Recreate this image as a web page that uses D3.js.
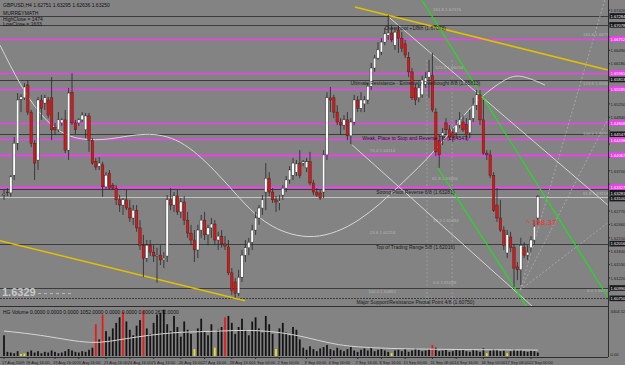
<!DOCTYPE html>
<html>
<head>
<meta charset="utf-8">
<script src="https://cdn.jsdelivr.net/npm/d3@7"></script>
<style>
  body { margin: 0; background: #838383; }
  svg { display: block; }
  text { font-family: "Liberation Sans", Arial, sans-serif; }
</style>
</head>
<body>
<svg id="chart" width="625" height="365"></svg>
<script>
// GBPUSD H4 bars
const opens = [1.6314,1.6321,1.6319,1.6360,1.6434,1.6536,1.6539,1.6569,1.6506,1.6434,1.6395,1.6534,1.6527,1.6534,1.6539,1.6471,1.6465,1.6481,1.6488,1.6418,
  1.6552,1.6481,1.6481,1.6488,1.6465,1.6497,1.6441,1.6391,1.6381,1.6384,1.6333,1.6365,1.6337,1.6330,1.6303,1.6291,1.6303,1.6284,1.6261,1.6279,
  1.6238,1.6198,1.6168,1.6198,1.6182,1.6173,1.6175,1.6164,1.6173,1.6303,1.6291,1.6312,1.6275,1.6298,1.6256,1.6226,1.6210,1.6187,1.6233,1.6256,
  1.6222,1.6238,1.6247,1.6210,1.6219,1.6201,1.6194,1.6134,1.6113,1.6087,1.6124,1.6175,1.6192,1.6205,1.6233,1.6261,1.6284,1.6321,1.6353,1.6321,
  1.6303,1.6296,1.6314,1.6330,1.6349,1.6360,1.6367,1.6388,1.6388,1.6377,1.6391,1.6342,1.6321,1.6319,1.6321,1.6407,1.6539,1.6539,1.6506,1.6483,
  1.6476,1.6488,1.6451,1.6483,1.6534,1.6515,1.6525,1.6534,1.6566,1.6608,1.6631,1.6645,1.6668,1.6684,1.6689,1.6661,1.6696,1.6677,1.6664,1.6633,
  1.6599,1.6562,1.6539,1.6546,1.6569,1.6587,1.6590,1.6506,1.6441,1.6451,1.6481,1.6465,1.6458,1.6458,1.6476,1.6483,1.6478,1.6458,1.6492,1.6522,
  1.6546,1.6488,1.6411,1.6407,1.6360,1.6291,1.6261,1.6233,1.6180,1.6217,1.6192,1.6148,1.6141,1.6192,1.6175,1.6192,1.6210,1.6261];
const highs = [1.6326,1.6330,1.6360,1.6448,1.6550,1.6548,1.6573,1.6580,1.6511,1.6441,1.6541,1.6546,1.6546,1.6541,1.6587,1.6481,1.6506,1.6492,1.6511,1.6562,
  1.6596,1.6488,1.6492,1.6506,1.6504,1.6504,1.6446,1.6400,1.6402,1.6391,1.6367,1.6372,1.6342,1.6337,1.6314,1.6307,1.6326,1.6303,1.6291,1.6291,
  1.6256,1.6222,1.6210,1.6210,1.6198,1.6192,1.6198,1.6182,1.6314,1.6330,1.6321,1.6326,1.6307,1.6312,1.6275,1.6245,1.6233,1.6245,1.6268,1.6275,
  1.6245,1.6261,1.6256,1.6229,1.6233,1.6219,1.6210,1.6145,1.6122,1.6141,1.6187,1.6210,1.6215,1.6245,1.6275,1.6291,1.6314,1.6388,1.6367,1.6330,
  1.6312,1.6314,1.6337,1.6358,1.6381,1.6400,1.6395,1.6418,1.6395,1.6400,1.6414,1.6349,1.6330,1.6326,1.6418,1.6552,1.6564,1.6546,1.6522,1.6492,
  1.6499,1.6506,1.6492,1.6546,1.6543,1.6552,1.6543,1.6573,1.6620,1.6638,1.6668,1.6677,1.6701,1.6731,1.6708,1.6701,1.6708,1.6691,1.6673,1.6645,
  1.6608,1.6571,1.6571,1.6590,1.6599,1.6627,1.6643,1.6515,1.6453,1.6469,1.6492,1.6476,1.6469,1.6488,1.6506,1.6499,1.6492,1.6511,1.6539,1.6557,
  1.6557,1.6534,1.6418,1.6418,1.6367,1.6330,1.6303,1.6242,1.6233,1.6229,1.6201,1.6159,1.6215,1.6205,1.6198,1.6219,1.6256,1.6314];
const lows = [1.6303,1.6312,1.6310,1.6349,1.6418,1.6506,1.6534,1.6499,1.6425,1.6349,1.6372,1.6488,1.6511,1.6492,1.6441,1.6453,1.6460,1.6474,1.6411,1.6395,
  1.6476,1.6455,1.6474,1.6483,1.6446,1.6414,1.6384,1.6372,1.6372,1.6310,1.6326,1.6326,1.6326,1.6291,1.6275,1.6268,1.6279,1.6252,1.6245,1.6229,
  1.6187,1.6124,1.6159,1.6173,1.6159,1.6111,1.6152,1.6145,1.6159,1.6279,1.6275,1.6268,1.6261,1.6245,1.6215,1.6198,1.6159,1.6168,1.6215,1.6210,
  1.6198,1.6215,1.6198,1.6187,1.6192,1.6187,1.6129,1.6083,1.6076,1.6080,1.6113,1.6159,1.6175,1.6187,1.6222,1.6245,1.6268,1.6279,1.6312,1.6296,
  1.6275,1.6279,1.6303,1.6321,1.6340,1.6349,1.6358,1.6353,1.6381,1.6367,1.6337,1.6314,1.6310,1.6303,1.6307,1.6395,1.6506,1.6492,1.6476,1.6453,
  1.6465,1.6441,1.6432,1.6476,1.6506,1.6506,1.6506,1.6525,1.6557,1.6599,1.6627,1.6638,1.6661,1.6673,1.6668,1.6650,1.6643,1.6645,1.6631,1.6587,
  1.6534,1.6522,1.6529,1.6539,1.6562,1.6539,1.6506,1.6404,1.6377,1.6430,1.6453,1.6441,1.6437,1.6446,1.6469,1.6460,1.6441,1.6446,1.6483,1.6511,
  1.6476,1.6407,1.6395,1.6353,1.6275,1.6252,1.6229,1.6187,1.6168,1.6182,1.6101,1.6117,1.6106,1.6168,1.6164,1.6182,1.6201,1.6245];
const closes = [1.6316,1.6319,1.6356,1.6434,1.6534,1.6541,1.6564,1.6506,1.6434,1.6388,1.6534,1.6515,1.6539,1.6499,1.6465,1.6465,1.6488,1.6488,1.6418,1.6550,
  1.6481,1.6465,1.6488,1.6499,1.6497,1.6441,1.6388,1.6379,1.6388,1.6333,1.6360,1.6330,1.6330,1.6303,1.6291,1.6303,1.6284,1.6261,1.6279,1.6238,
  1.6198,1.6168,1.6198,1.6182,1.6173,1.6175,1.6164,1.6168,1.6303,1.6291,1.6312,1.6275,1.6298,1.6256,1.6226,1.6210,1.6187,1.6233,1.6256,1.6222,
  1.6238,1.6247,1.6210,1.6219,1.6201,1.6196,1.6134,1.6094,1.6087,1.6124,1.6175,1.6192,1.6205,1.6233,1.6261,1.6284,1.6303,1.6353,1.6321,1.6303,
  1.6298,1.6300,1.6330,1.6349,1.6372,1.6388,1.6386,1.6360,1.6391,1.6391,1.6342,1.6321,1.6314,1.6307,1.6407,1.6539,1.6534,1.6506,1.6483,1.6476,
  1.6488,1.6451,1.6483,1.6534,1.6515,1.6534,1.6534,1.6566,1.6608,1.6631,1.6650,1.6668,1.6687,1.6689,1.6673,1.6691,1.6677,1.6654,1.6638,1.6599,
  1.6539,1.6534,1.6562,1.6580,1.6585,1.6599,1.6511,1.6414,1.6407,1.6458,1.6465,1.6448,1.6448,1.6476,1.6488,1.6465,1.6453,1.6488,1.6522,1.6546,
  1.6488,1.6411,1.6407,1.6360,1.6279,1.6261,1.6233,1.6198,1.6222,1.6192,1.6145,1.6141,1.6198,1.6175,1.6182,1.6210,1.6242,1.6310];

// HG Volume histogram + its average
const volumes = [1500,300,250,200,350,150,180,300,400,250,350,200,300,250,400,300,200,250,350,500,400,300,250,350,300,450,600,
  2300,1200,3000,1800,1400,2000,2400,2800,3200,2500,1900,1500,2200,2600,3300,2000,1600,2400,3000,3100,3350,2300,1800,2900,2100,1400,2500,1900,1600,
  500,2000,2700,1800,1500,2300,600,1900,2100,2800,2900,2400,1600,2100,2700,1900,1500,2500,2800,2000,1700,2900,2300,1600,500,2000,2400,1700,1500,2100,1900,1200,
  600,450,700,500,350,550,650,800,500,400,600,450,350,500,650,400,300,450,550,400,600,350,450,500,400,300,200,400,450,350,500,300,400,550,450,350,400,500,
  800,600,350,400,450,300,350,450,400,500,350,300,450,400,300,550,200,400,500,450,350,400,200,350,500,400,450,350,300,400,350,250];
const volRed = [27, 29, 35, 41, 65, 126];
const volYellow = [5, 6, 56, 62, 80, 114, 142, 148];
const volAvgIdx = [0, 12, 26, 35, 50, 60, 75, 88, 97, 110, 157];
const volAvgVal = [1810, 1500, 800, 1250, 1750, 1750, 1950, 1450, 800, 500, 430];

// horizontal levels
const magentaLevels = [1.66752, 1.65965, 1.65595, 1.64808, 1.64438, 1.64067, 1.63327];
const magentaThick = [1.64067, 1.63327];
const darkLevels = [1.67284, 1.67078, 1.65813, 1.64547, 1.63281, 1.62016, 1.60990, 1.60750];
const murreyPrices = [1.67078, 1.65813, 1.64547, 1.63281, 1.62016, 1.60750];
const murreyNames = ["Overshoot +1/8th", "Ultimate Resistance - Extremely Overbought 8/8",
  "Weak, Place to Stop and Reverse 7/8", "Strong Pivot Reverse 6/8",
  "Top of Trading Range 5/8", "Major Support/Resistance Pivotal Point 4/8"];
const priceTicks = [1.6742, 1.6711, 1.6680, 1.6649, 1.6618, 1.6587, 1.6556, 1.6525, 1.6494, 1.6463, 1.6432,
  1.6401, 1.6370, 1.6339, 1.6308, 1.6277, 1.6246, 1.6215, 1.6184, 1.6153, 1.6122, 1.6091];

// trend lines: [bar1, price1, bar2, price2]
const yellowLines = [[103.2, 1.67492, 177.6, 1.66034], [-1.2, 1.62085, 70.9, 1.60696]];
const greenLines = [[122.9, 1.67654, 177.6, 1.60781], [127.6, 1.63767, 153.8, 1.60550]];
const whiteLines = [[113.5, 1.67237, 177.6, 1.62910], [102.4, 1.64299, 155.6, 1.60550]];
const fanLines = [[151.8, 1.6094, 177.6, 1.6790], [151.8, 1.6094, 177.6, 1.6490], [151.8, 1.6094, 177.6, 1.6250]];

// cycle curve
const waveIdx = [-1.2, 4.7, 10.6, 16.5, 22.4, 31.2, 41.5, 51.8, 62.1, 70.9, 78.2, 90.9, 104.7, 116.5, 127.4, 137.1, 147.4, 151.8, 159.1];
const wavePrice = [1.66613, 1.65687, 1.64993, 1.64576, 1.64414, 1.64414, 1.64599, 1.64461, 1.63720, 1.62910, 1.62378,
  1.62054, 1.62494, 1.63373, 1.64183, 1.65224, 1.65849, 1.65942, 1.65687];

// fibo labels: bar, price, text
const fiboIdx = [170.3, 170.3, 170.3, 170.3, 171.5, 126.2, 126.8, 107.6, 125.9, 107.6, 126.2, 126.2, 107.1];
const fiboPrice = [1.66798, 1.65664, 1.64507, 1.63118, 1.60874, 1.67376, 1.66034, 1.64114, 1.63466, 1.62216, 1.62494, 1.61059, 1.60851];
const fiboText = ["161.8  1.66798", "123.6  1.65664", "100.0  1.64507", "61.8  1.63118", "0.0  1.60874",
  "161.8  1.67376", "123.6  1.66034", "76.4  1.64114", "61.8  1.63466", "23.6  1.62216", "38.2  1.62494", "0.0  1.61059", "100.0  1.60851"];

const dateIdx = [0, 7, 15, 22, 30, 37, 44, 52, 59, 67, 74, 81, 89, 96, 104, 111, 118, 126, 133, 141, 148, 155];
const dateLabels = ["17 Aug 2009", "18 Aug 16:00", "19 Aug 16:00", "20 Aug 16:00", "21 Aug 16:00", "24 Aug 16:00",
  "25 Aug 16:00", "26 Aug 16:00", "27 Aug 16:00", "28 Aug 16:00", "1 Sep 00:00", "2 Sep 00:00", "3 Sep 00:00",
  "4 Sep 00:00", "7 Sep 16:00", "8 Sep 16:00", "10 Sep 00:00", "11 Sep 08:00", "14 Sep 16:00", "16 Sep 00:00",
  "17 Sep 08:00", "22 Sep 00:00"];

const svg = d3.select("#chart");
const plotRight = 608, mainBottom = 306, volTop = 307, volBottom = 357;
const fmt = d3.format(".5f");
const idx = d3.range(closes.length);

const x = d3.scaleLinear().domain([0, closes.length - 1]).range([4, 537.8]);
const y = d3.scaleLinear().domain([1.60573, 1.67654]).range([mainBottom, 0]);
const yv = d3.scaleLinear().domain([0, 3404.52]).range([volBottom - 1, volTop + 2]);

svg.append("rect").attr("width", 625).attr("height", 365).attr("fill", "#838383");

const defs = svg.append("defs");
defs.append("clipPath").attr("id", "clipMain").append("rect")
  .attr("x", 0).attr("y", 0).attr("width", plotRight).attr("height", mainBottom);
defs.append("clipPath").attr("id", "clipVol").append("rect")
  .attr("x", 0).attr("y", volTop).attr("width", plotRight).attr("height", volBottom - volTop);

const main = svg.append("g").attr("clip-path", "url(#clipMain)");

// faint vertical fibo time lines
main.selectAll("line.vdash").data([124.4, 131.8]).join("line")
  .attr("x1", d => x(d)).attr("x2", d => x(d)).attr("y1", 60).attr("y2", mainBottom)
  .attr("stroke", "#a8a8a8").attr("stroke-width", 0.7).attr("stroke-dasharray", "2,2");

// horizontal levels
main.selectAll("line.dark").data(darkLevels).join("line")
  .attr("x1", 0).attr("x2", plotRight)
  .attr("y1", d => Math.round(y(d)) + 0.5).attr("y2", d => Math.round(y(d)) + 0.5)
  .attr("stroke", "#3c3c3c").attr("stroke-width", 1)
  .attr("stroke-dasharray", d => d === 1.60750 ? "2,1" : null);
main.selectAll("line.mag").data(magentaLevels).join("line")
  .attr("x1", 0).attr("x2", plotRight)
  .attr("y1", d => Math.round(y(d)) + 0.5).attr("y2", d => Math.round(y(d)) + 0.5)
  .attr("stroke", "#ee40ee").attr("stroke-width", d => magentaThick.includes(d) ? 2 : 1.3);

// bid line
const lastClose = closes[closes.length - 1];
main.append("line").attr("x1", 0).attr("x2", plotRight)
  .attr("y1", Math.round(y(lastClose)) + 0.5).attr("y2", Math.round(y(lastClose)) + 0.5)
  .attr("stroke", "#c4c4c4").attr("stroke-width", 1);

// fibo labels
main.selectAll("text.fibo").data(fiboIdx).join("text")
  .attr("x", d => x(d)).attr("y", (d, i) => y(fiboPrice[i]) - 1)
  .attr("font-size", 4.4).attr("fill", "#b4b4b4").text((d, i) => fiboText[i]);

// fan lines
const seg = sel => sel.attr("x1", d => x(d[0])).attr("y1", d => y(d[1])).attr("x2", d => x(d[2])).attr("y2", d => y(d[3]));
main.selectAll("line.fan").data(fanLines).join("line").call(seg)
  .attr("stroke", "#b0b0b0").attr("stroke-width", 0.8).attr("stroke-dasharray", "2,2");

// cycle wave
main.append("path")
  .attr("d", d3.line().curve(d3.curveBasis).x(d => x(d)).y((d, i) => y(wavePrice[i]))(waveIdx))
  .attr("fill", "none").attr("stroke", "#d8d8d8").attr("stroke-width", 1);

main.selectAll("line.white").data(whiteLines).join("line").call(seg)
  .attr("stroke", "#d4d4d4").attr("stroke-width", 1);
main.selectAll("line.yellow").data(yellowLines).join("line").call(seg)
  .attr("stroke", "#e2c000").attr("stroke-width", 1.5);
main.selectAll("line.green").data(greenLines).join("line").call(seg)
  .attr("stroke", "#1ee01e").attr("stroke-width", 1.2);

// candles
const bw = 2.5;
main.selectAll("line.wick").data(idx).join("line")
  .attr("x1", i => x(i)).attr("x2", i => x(i))
  .attr("y1", i => y(highs[i])).attr("y2", i => y(lows[i]))
  .attr("stroke", "#262626").attr("stroke-width", 0.8);
main.selectAll("rect.body").data(idx).join("rect")
  .attr("x", i => x(i) - bw / 2).attr("width", bw)
  .attr("y", i => y(Math.max(opens[i], closes[i])))
  .attr("height", i => Math.max(0.8, Math.abs(y(opens[i]) - y(closes[i]))))
  .attr("fill", i => closes[i] >= opens[i] ? "#ffffff" : "#e01414")
  .attr("stroke", "#262626").attr("stroke-width", 0.4);

// murrey math labels
main.selectAll("text.mm").data(murreyPrices).join("text")
  .attr("x", x(121)).attr("y", d => y(d) + 5.5).attr("text-anchor", "middle")
  .attr("font-size", 5).attr("fill", "#1c1c1c")
  .text((d, i) => `${murreyNames[i]} (${fmt(d)})`);

// header
const header = ["GBPUSD,H4  1.62751 1.63295 1.62636 1.63250", "MURREYMATH", "HighClose = 1474", "LowClose = 1633"];
svg.selectAll("text.hdr").data(header).join("text")
  .attr("x", 3).attr("y", (d, i) => [7, 15, 20.5, 26][i])
  .attr("font-size", 5).attr("fill", "#111").text(d => d);

// big low price label
svg.append("text").attr("x", 2).attr("y", 296).attr("font-size", 11).attr("font-weight", "bold")
  .attr("fill", "#c9c9c9").text("1.6329");
svg.append("line").attr("x1", 38).attr("x2", 72).attr("y1", 293.5).attr("y2", 293.5)
  .attr("stroke", "#b8b8b8").attr("stroke-dasharray", "3,3");

// pips counter
svg.append("text").attr("x", x(153.5)).attr("y", y(1.6244)).attr("font-size", 8)
  .attr("fill", "#ff2a2a").text("^ 158.37");

// volume panel
const vol = svg.append("g").attr("clip-path", "url(#clipVol)");
vol.selectAll("rect.vb").data(idx).join("rect")
  .attr("x", i => x(i) - 0.9).attr("width", 1.8)
  .attr("y", i => yv(volumes[i])).attr("height", i => yv(0) - yv(volumes[i]))
  .attr("fill", i => volRed.includes(i) ? "#f01818" : volYellow.includes(i) ? "#e8e020" : "#141414");
vol.append("path")
  .attr("d", d3.line().curve(d3.curveBasis).x(d => x(d)).y((d, i) => yv(volAvgVal[i]))(volAvgIdx))
  .attr("fill", "none").attr("stroke", "#d6d6d6").attr("stroke-width", 1);
svg.append("text").attr("x", 3).attr("y", 314).attr("font-size", 5).attr("fill", "#111")
  .text("HG Volume 0.0000 0.0000 0.0000 1052.0000 0.0000 0.0000 0.0000 2672.0000");

// frame
svg.append("line").attr("x1", plotRight + 0.5).attr("x2", plotRight + 0.5).attr("y1", 0).attr("y2", volBottom)
  .attr("stroke", "#2e2e2e");
svg.append("line").attr("x1", 0).attr("x2", plotRight).attr("y1", mainBottom + 0.5).attr("y2", mainBottom + 0.5)
  .attr("stroke", "#2e2e2e");
svg.append("line").attr("x1", 0).attr("x2", plotRight).attr("y1", volBottom + 0.5).attr("y2", volBottom + 0.5)
  .attr("stroke", "#2e2e2e");

// right price axis: coloured price boxes, nudged apart when they collide
const boxes = magentaLevels.map(p => ({p, c: "#ee40ee"}))
  .concat(darkLevels.map(p => ({p, c: "#1a1a1a"})))
  .concat([{p: lastClose, c: "#1a1a1a"}])
  .sort((a, b) => b.p - a.p);
let prevY = -10;
boxes.forEach(b => {
  b.y = Math.max(y(b.p), prevY + 5.8);
  prevY = b.y;
});
const axisG = svg.append("g");
axisG.selectAll("text.tick").data(priceTicks.filter(t => boxes.every(b => Math.abs(b.y - y(t)) > 5))).join("text")
  .attr("x", 610.5).attr("y", d => y(d) + 1.8).attr("font-size", 4.1).attr("fill", "#222").text(d => fmt(d));
axisG.selectAll("line.tk").data(priceTicks).join("line")
  .attr("x1", plotRight).attr("x2", plotRight + 2).attr("y1", d => y(d)).attr("y2", d => y(d)).attr("stroke", "#2e2e2e");
axisG.selectAll("rect.box").data(boxes).join("rect")
  .attr("x", 609.5).attr("width", 15.5).attr("y", d => d.y - 2.8).attr("height", 5.6).attr("fill", d => d.c);
axisG.selectAll("text.box").data(boxes).join("text")
  .attr("x", 610.5).attr("y", d => d.y + 1.8).attr("font-size", 4.1).attr("fill", "#f4f4f4").text(d => fmt(d.p));
svg.append("text").attr("x", 610.5).attr("y", 313).attr("font-size", 4.1).attr("fill", "#222").text("3404.52");
svg.append("text").attr("x", 610.5).attr("y", 356).attr("font-size", 4.1).attr("fill", "#222").text("0.00");

// time axis
svg.selectAll("text.date").data(dateIdx).join("text")
  .attr("x", d => x(d) - 2).attr("y", 363.5).attr("font-size", 4).attr("fill", "#1a1a1a")
  .text((d, i) => dateLabels[i]);
svg.selectAll("line.dt").data(dateIdx).join("line")
  .attr("x1", d => x(d)).attr("x2", d => x(d)).attr("y1", volBottom).attr("y2", volBottom + 2).attr("stroke", "#2e2e2e");
</script>
</body>
</html>
